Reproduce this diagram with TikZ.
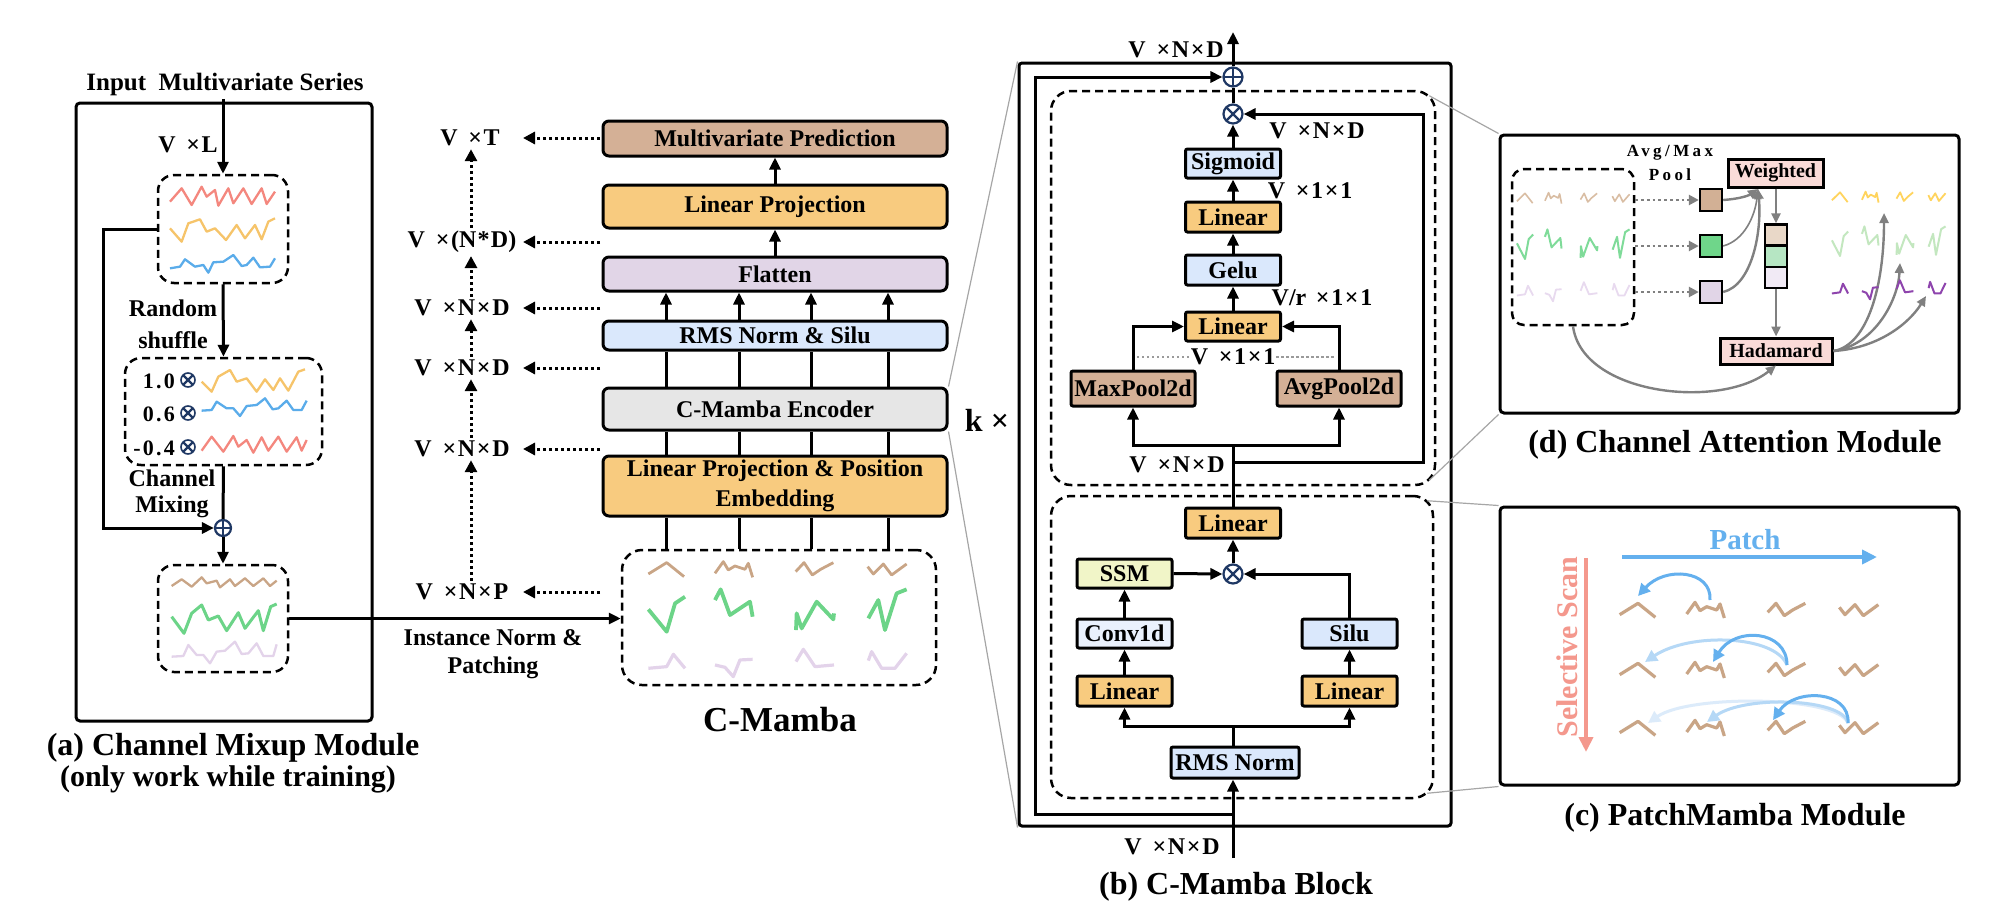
\documentclass[tikz,border=0pt]{standalone}
\usepackage{fontspec}
\setmainfont{Liberation Serif}
\newfontfamily\spacedfont[LetterSpace=20]{Liberation Serif}
\newfontfamily\numfont[LetterSpace=10]{Liberation Serif}
\usetikzlibrary{arrows.meta,calc}
\definecolor{ctan}{HTML}{D4B096}
\definecolor{corange}{HTML}{F8CB7F}
\definecolor{clav}{HTML}{E1D5E7}
\definecolor{cblue}{HTML}{DAE8FC}
\definecolor{cgray}{HTML}{E6E6E6}
\definecolor{cssm}{HTML}{F1F5C8}
\definecolor{cconv}{HTML}{EAF1FD}
\definecolor{cpink}{HTML}{FADBD8}
\definecolor{navy}{HTML}{1F3864}
\definecolor{sred}{HTML}{F4877E}
\definecolor{sorange}{HTML}{F6C46A}
\definecolor{sblue}{HTML}{5AACEA}
\definecolor{sbrown}{HTML}{C9A586}
\definecolor{sgreen}{HTML}{6CD488}
\definecolor{spurple}{HTML}{E3D3EA}
\definecolor{fbrown}{HTML}{D9BDA3}
\definecolor{fgreen}{HTML}{7FDB99}
\definecolor{fpurple}{HTML}{E8DAEF}
\definecolor{dyellow}{HTML}{FFD45E}
\definecolor{dgreen}{HTML}{C3E7BF}
\definecolor{dpurple}{HTML}{8E44AD}
\definecolor{pblue}{HTML}{64B0EE}
\definecolor{pblue2}{HTML}{B5D8F6}
\definecolor{pblue3}{HTML}{DCEBFA}
\definecolor{salmon}{HTML}{F4988D}
\definecolor{connc}{HTML}{A6A6A6}
\definecolor{darr}{HTML}{808080}
\definecolor{sqtan}{HTML}{D2B095}
\definecolor{sqgreen}{HTML}{6FD68A}
\definecolor{stk1}{HTML}{E9D8C8}
\definecolor{stk2}{HTML}{B6E6C3}
\definecolor{stk3}{HTML}{F1EAF5}
\newcommand{\fmid}{\fontsize{24}{30}\selectfont\bfseries}
\newcommand{\fcap}{\fontsize{32}{36}\selectfont\bfseries}
\newcommand{\fsm}{\fontsize{20}{23}\selectfont\bfseries}
\newcommand{\xx}{\hspace{.07em}×\hspace{.07em}}
\newcommand{\vv}{V\hspace{.45em}×\hspace{.07em}}
\newcommand{\zig}[5]{\draw[#1,line join=round,shift={(#2)},xscale=#3,yscale=#4] #5;}
\def\PBa{(-55,14)--(0,-20)--(52,22)}
\def\PBb{(-55,12)--(-30,-23)--(-15,2)--(5,-10)--(35,0)--(45,-18)--(58,24)}
\def\PBc{(-58,7)--(-33,-20)--(-8,17)--(17,0)--(55,-20)}
\def\PBd{(-59,-8)--(-42,14)--(-12,-16)--(13,17)--(58,-16)}
\def\PGa{(-55,-7)--(0,60)--(25,-25)--(55,-45)}
\def\PGb{(-55,-35)--(-38,-67)--(-10,10)--(50,-30)--(58,15)}
\def\PGc{(-57,55)--(-55,5)--(-40,50)--(5,-30)--(55,23)--(57,5)}
\def\PGd{(-57,20)--(-27,-35)--(-7,55)--(28,-55)--(58,-67)}
\def\PPa{(-55,15)--(0,10)--(20,-27)--(55,15)}
\def\PPb{(-55,5)--(-25,12)--(0,40)--(20,-10)--(58,-12)}
\def\PPc{(-57,-5)--(-35,-42)--(0,10)--(57,5)}
\def\PPd{(-57,-8)--(-47,-35)--(-17,15)--(23,15)--(58,-30)}
\tikzset{
  ln/.style={line width=3pt},
  arr/.style={line width=3pt,-{Triangle[length=12pt,width=11pt]}},
  dotarr/.style={line width=3pt,dash pattern=on 3pt off 3pt,-{Triangle[length=12pt,width=12pt]}},
  mbox/.style={draw,line width=3pt,rounded corners=6pt,minimum width=344pt,inner sep=0pt,align=center,font=\fmid},
  bbox/.style={draw,line width=3pt,rounded corners=2pt,minimum width=95pt,minimum height=30pt,inner sep=0pt,font=\fmid},
  dbox/.style={draw,line width=2.5pt,dash pattern=on 8pt off 5pt,rounded corners=#1},
  dbox/.default=16pt,
  lbl/.style={font=\fmid,inner sep=3pt},
  panel/.style={draw,line width=3pt,rounded corners=4pt,fill=white},
  conn/.style={draw=connc,line width=1.2pt},
  gdot/.style={draw=darr,line width=2.8pt,dash pattern=on 2.8pt off 3pt,-{Triangle[length=10pt,width=10pt]}},
  garr/.style={draw=darr,line width=2.4pt,-{Triangle[length=10pt,width=9pt]}},
  parr/.style={draw=pblue,line width=3pt,-{Triangle[length=12pt,width=12pt]}},
  pk/.style={draw,line width=3pt,fill=cpink,inner sep=0pt,font=\fsm},
  opl/.style={circle,draw=navy,line width=2.2pt,minimum size=#1,inner sep=0pt,fill=white,
    path picture={\draw[navy,line width=2.2pt] (path picture bounding box.north)--(path picture bounding box.south) (path picture bounding box.west)--(path picture bounding box.east);}},
  opl/.default=19pt,
  otm/.style={circle,draw=navy,line width=2.2pt,minimum size=#1,inner sep=0pt,fill=white,
    path picture={\draw[navy,line width=2.2pt] (path picture bounding box.north west)--(path picture bounding box.south east) (path picture bounding box.north east)--(path picture bounding box.south west);}},
  otm/.default=19pt,
}
\begin{document}
\begin{tikzpicture}[x=1pt,y=-1pt]
\useasboundingbox (0,0) rectangle (1992,918);

%%%%%%%%%%%%%%%% Panel (a)
\node[panel,minimum width=296pt,minimum height=618pt] (pa) at (224,412) {};
\node[font=\fontsize{25}{28}\selectfont\bfseries] (ttl) at (225,84) {Input\ \ Multivariate Series};
\node[dbox,minimum width=130pt,minimum height=108pt] (a1) at (223,229) {};
\node[dbox,minimum width=197pt,minimum height=107pt] (a2) at (223.5,411.5) {};
\node[dbox,minimum width=130pt,minimum height=107pt] (a3) at (223,618.5) {};
\node[opl=16pt] (opa) at (223,528) {};
\node[lbl] (lvl) at (188,145) {\vv L};
\node[lbl] (lrand) at (173,308) {Random};
\node[lbl] (lshuf) at (173,340) {shuffle};
\node[lbl] (lchan) at (172,478) {Channel};
\node[lbl] (lmix) at (172,507) {Mixing};
\node[font=\fontsize{22}{24}\selectfont\numfont\bfseries,anchor=east,inner sep=0pt] (w1) at (175,381) {1.0};
\node[font=\fontsize{22}{24}\selectfont\numfont\bfseries,anchor=east,inner sep=0pt] (w2) at (175,414) {0.6};
\node[font=\fontsize{22}{24}\selectfont\numfont\bfseries,anchor=east,inner sep=0pt] (w3) at (175,448) {-0.4};
\node[otm=14pt,line width=1.6pt] (m1) at (188,380) {};
\node[otm=14pt,line width=1.6pt] (m2) at (188,413) {};
\node[otm=14pt,line width=1.6pt] (m3) at (188,447) {};
\draw[arr] (ttl.south -| a1.north) -- (a1.north);
\draw[arr] (a1.south) -- (a2.north);
\draw[arr] (a1.west) -- ++(-53,0) |- (opa.west);
\draw[ln] (a2.south) -- (opa.north);
\draw[arr] (opa.south) -- (a3.north);
\begin{scope}[shift={(60,60)},scale=1/3,line width=2.3pt,line join=round]
\draw[sred] (330,425)--(365,385)--(395,435)--(425,380)--(440,410)--(465,390)--(475,437)--(505,385)--(520,430)--(550,385)--(575,432)--(605,385)--(620,432)--(645,395);
\draw[sorange] (330,505)--(365,545)--(385,490)--(420,478)--(440,515)--(465,505)--(498,540)--(530,495)--(555,535)--(585,495)--(605,538)--(625,485)--(645,475);
\draw[sblue] (330,625)--(360,620)--(375,598)--(405,620)--(430,615)--(445,638)--(460,607)--(490,605)--(520,585)--(545,618)--(560,615)--(580,593)--(600,622)--(630,620)--(645,595);
\draw[sorange] (425,965)--(455,995)--(475,950)--(510,930)--(530,965)--(560,955)--(590,995)--(615,958)--(640,990)--(660,955)--(685,992)--(715,935)--(735,928);
\draw[sblue] (425,1052)--(455,1050)--(470,1025)--(500,1045)--(520,1045)--(540,1068)--(560,1038)--(590,1035)--(615,1015)--(638,1048)--(655,1045)--(680,1022)--(700,1050)--(725,1050)--(740,1022);
\draw[sred] (425,1172)--(455,1130)--(490,1175)--(520,1128)--(535,1160)--(560,1140)--(580,1178)--(605,1132)--(625,1172)--(655,1130)--(680,1175)--(710,1132)--(725,1172)--(740,1140);
\end{scope}
\begin{scope}[shift={(60,460)},scale=1/3,line width=2.3pt,line join=round]
\draw[sbrown] (335,378)--(365,358)--(395,380)--(425,352)--(440,370)--(470,362)--(480,382)--(510,358)--(525,378)--(555,355)--(580,378)--(610,355)--(630,378)--(650,362);
\draw[sgreen,line width=3pt] (335,470)--(372,520)--(395,460)--(425,435)--(445,480)--(475,468)--(500,512)--(535,458)--(555,505)--(595,452)--(610,512)--(632,440)--(650,432);
\draw[spurple] (335,590)--(370,588)--(385,555)--(410,585)--(430,585)--(450,610)--(470,575)--(495,572)--(525,545)--(545,582)--(565,580)--(590,550)--(610,588)--(640,588)--(650,553);
\end{scope}
\node[font=\fcap] (capa) at (233,748) {(a) Channel Mixup Module};
\node[font=\fontsize{30}{34}\selectfont\bfseries] (capa2) at (228,779) {(only work while training)};

%%%%%%%%%%%%%%%% C-Mamba (middle)
\node[mbox,fill=ctan,minimum height=35pt] (mp) at (775,138.5) {Multivariate Prediction};
\node[mbox,fill=corange,minimum height=43pt] (lp) at (775,206.5) {Linear Projection};
\node[mbox,fill=clav,minimum height=34pt] (fl) at (775,274) {Flatten};
\node[mbox,fill=cblue,minimum height=29pt] (rs) at (775,335.5) {RMS Norm \& Silu};
\node[mbox,fill=cgray,minimum height=42pt] (enc) at (775,409) {C-Mamba Encoder};
\node[mbox,fill=corange,minimum height=60pt] (lpe) at (775,486) {Linear Projection \& Position\\Embedding};
\node[dbox=20pt,minimum width=314pt,minimum height=135pt] (pbox) at (779,617.5) {};
\draw[arr] (lp.north) -- (mp.south);
\draw[arr] (fl.north) -- (lp.south);
\foreach \i/\x in {1/666,2/739,3/811,4/888}{
  \coordinate (c\i) at (\x,0);
  \draw[arr] (c\i |- rs.north) -- (c\i |- fl.south);
  \draw[ln] (c\i |- enc.north) -- (c\i |- rs.south);
  \draw[ln] (c\i |- lpe.north) -- (c\i |- enc.south);
  \draw[ln] (c\i |- pbox.north) -- (c\i |- lpe.south);
}
\draw[arr] (a3.east) -- (a3.east -| pbox.west);
\zig{sbrown,line width=2.8pt}{666.7,569.3}{1/3}{1/3}{\PBa}
\zig{sbrown,line width=2.8pt}{733.3,569.3}{1/3}{1/3}{\PBb}
\zig{sbrown,line width=2.8pt}{815,569.3}{1/3}{1/3}{\PBc}
\zig{sbrown,line width=2.8pt}{887.3,569.3}{1/3}{1/3}{\PBd}
\zig{sgreen,line width=3.8pt}{666.7,611.7}{1/3}{1/3}{\PGa}
\zig{sgreen,line width=3.8pt}{733.3,611.7}{1/3}{1/3}{\PGb}
\zig{sgreen,line width=3.8pt}{815,611.7}{1/3}{1/3}{\PGc}
\zig{sgreen,line width=3.8pt}{887.3,611.7}{1/3}{1/3}{\PGd}
\zig{spurple,line width=3.2pt}{666.7,663.3}{1/3}{1/3}{\PPa}
\zig{spurple,line width=3.2pt}{733.3,663.3}{1/3}{1/3}{\PPb}
\zig{spurple,line width=3.2pt}{815,663.3}{1/3}{1/3}{\PPc}
\zig{spurple,line width=3.2pt}{887.3,663.3}{1/3}{1/3}{\PPd}
\node[lbl] (l1) at (470,138) {\vv T};
\node[lbl] (l2) at (462,242) {\vv(N\hspace{.05em}*\hspace{.05em}D)};
\node[lbl] (l3) at (462,308) {\vv N\xx D};
\node[lbl] (l4) at (462,368) {\vv N\xx D};
\node[lbl] (l5) at (462,449) {\vv N\xx D};
\node[lbl] (l6) at (462,592) {\vv N\xx P};
\coordinate (sx) at (600,0);
\coordinate (tx) at (523,0);
\coordinate (vx) at (471,0);
\foreach \n in {l1,l2,l3,l4,l5,l6}{\draw[dotarr] (\n -| sx) -- (\n -| tx);}
\draw[dotarr] (l6.north -| vx) -- (l5.south -| vx);
\draw[dotarr] (l5.north -| vx) -- (l4.south -| vx);
\draw[dotarr] (l4.north -| vx) -- (l3.south -| vx);
\draw[dotarr] (l3.north -| vx) -- (l2.south -| vx);
\draw[dotarr] (l2.north -| vx) -- (l1.south -| vx);
\node[lbl] (lin1t) at (493,638) {Instance Norm \&};
\node[lbl] (lin2t) at (493,668) {Patching};
\node[font=\fontsize{35}{40}\selectfont\bfseries] (cmc) at (780,720) {C-Mamba};
\node[font=\fcap] (kx) at (987,420) {k ×};

%%%%%%%%%%%%%%%% C-Mamba Block (b)
\node[draw,line width=3pt,rounded corners=3pt,minimum width=432pt,minimum height=763pt] (bo) at (1235,444.5) {};
\node[dbox=20pt,minimum width=384pt,minimum height=394pt] (d1) at (1243,288) {};
\node[dbox=20pt,minimum width=382pt,minimum height=302pt] (d2) at (1242,647) {};
\node[opl] (op1) at (1233,77) {};
\node[otm] (ot1) at (1233,114) {};
\node[bbox,fill=cblue,minimum height=29pt] (sig) at (1233,163.5) {Sigmoid};
\node[bbox,fill=corange] (lin1) at (1233,217) {Linear};
\node[bbox,fill=cblue] (gelu) at (1233,270) {Gelu};
\node[bbox,fill=corange,minimum height=29pt] (lin2) at (1233,326.5) {Linear};
\node[bbox,fill=ctan,minimum width=124pt,minimum height=35pt] (maxp) at (1133,388.5) {MaxPool2d};
\node[bbox,fill=ctan,minimum width=124pt,minimum height=35pt] (avgp) at (1339,388.5) {AvgPool2d};
\node[bbox,fill=corange] (lin3) at (1233,523) {Linear};
\node[otm] (ot2) at (1233,574) {};
\node[bbox,fill=cssm,minimum height=29pt] (ssm) at (1124.5,573.5) {SSM};
\node[bbox,fill=cconv,minimum height=29pt] (conv) at (1124.5,633.5) {Conv1d};
\node[bbox,fill=corange] (lin4) at (1124.5,691) {Linear};
\node[bbox,fill=cblue,minimum height=29pt] (silu) at (1349.5,633.5) {Silu};
\node[bbox,fill=corange] (lin5) at (1349.5,691) {Linear};
\node[bbox,fill=cblue,minimum width=128pt,minimum height=31pt] (rmsb) at (1235,762.5) {RMS Norm};
\coordinate (outb) at (1233,32);
\coordinate (jb) at (1233,445);
\coordinate (jr) at (1233,462);
\coordinate (js) at (1233,726);
\coordinate (jres) at (1233,814);
\coordinate (inb) at (1233,858);
\draw[arr] (op1.north) -- (outb);
\draw[ln] (ot1.north) -- (op1.south);
\draw[arr] (sig.north) -- (ot1.south);
\draw[arr] (lin1.north) -- (sig.south);
\draw[arr] (gelu.north) -- (lin1.south);
\draw[arr] (lin2.north) -- (gelu.south);
\draw[arr] (maxp.north) |- (lin2.west);
\draw[arr] (avgp.north) |- (lin2.east);
\draw[ln] (lin3.north) -- (jb);
\draw[arr] (jb) -| (maxp.south);
\draw[arr] (jb) -| (avgp.south);
\draw[arr] (jr) -- (1423,462) -- (1423,114) -- (ot1.east);
\draw[arr] (ot2.north) -- (lin3.south);
\draw[arr] (ssm.east) -- (ot2.west);
\draw[arr] (silu.north) |- (ot2.east);
\draw[arr] (conv.north) -- (ssm.south);
\draw[arr] (lin4.north) -- (conv.south);
\draw[arr] (lin5.north) -- (silu.south);
\draw[ln] (rmsb.north -| js) -- (js);
\draw[arr] (js) -| (lin4.south);
\draw[arr] (js) -| (lin5.south);
\draw[arr] (inb) -- (rmsb.south -| inb);
\draw[arr] (jres) -- (1035,814) -- (1035,77) -- (op1.west);
\node[lbl] (bl1) at (1176,50) {\vv N\xx D};
\node[lbl] (bl2) at (1317,131) {\vv N\xx D};
\node[lbl] (bl3) at (1310,191) {\vv 1\xx 1};
\node[lbl] (bl4) at (1322,298) {V/r\hspace{.4em}×\hspace{.07em}1\xx 1};
\node[lbl,fill=white,inner sep=1pt] (v11) at (1233,357) {\vv 1\xx 1};
\draw[darr!80,line width=2.4pt,dash pattern=on 2.4pt off 2.6pt] (maxp.north |- v11) ++(4,0) -- (v11.west);
\draw[darr!80,line width=2.4pt,dash pattern=on 2.4pt off 2.6pt] (v11.east) -- ($(avgp.north |- v11)+(-4,0)$);
\node[lbl] (bl5) at (1177,465) {\vv N\xx D};
\node[lbl] (bl6) at (1172,847) {\vv N\xx D};
\node[font=\fcap] (capb) at (1236,887) {(b) C-Mamba Block};

%%%%%%%%%%%%%%%% Panel (d)
\node[panel,minimum width=459pt,minimum height=278pt] (pd) at (1729.5,274) {};
\node[dbox=12pt,minimum width=122pt,minimum height=156pt] (dd) at (1573,247) {};
\node[font=\fontsize{17}{19}\selectfont\spacedfont\bfseries] (avgm) at (1670,153) {Avg/Max};
\node[font=\fontsize{17}{19}\selectfont\spacedfont\bfseries] (pool) at (1670,175) {Pool};
\node[draw,line width=2.4pt,fill=sqtan,minimum size=22pt,inner sep=0pt] (s1) at (1711,200) {};
\node[draw,line width=2.4pt,fill=sqgreen,minimum size=22pt,inner sep=0pt] (s2) at (1711,246) {};
\node[draw,line width=2.4pt,fill=clav,minimum size=22pt,inner sep=0pt] (s3) at (1711,292) {};
\draw[gdot] (dd.east |- s1) -- (s1.west);
\draw[gdot] (dd.east |- s2) -- (s2.west);
\draw[gdot] (dd.east |- s3) -- (s3.west);
\node[pk,minimum width=95pt,minimum height=28pt] (wt) at (1775.5,173) {Weighted};
\node[draw,line width=2.2pt,fill=stk1,minimum width=22pt,minimum height=21pt,inner sep=0pt] (k1) at (1776,235) {};
\node[draw,line width=2.2pt,fill=stk2,minimum width=22pt,minimum height=21pt,inner sep=0pt] (k2) at (1776,256.5) {};
\node[draw,line width=2.2pt,fill=stk3,minimum width=22pt,minimum height=21pt,inner sep=0pt] (k3) at (1776,277.5) {};
\node[pk,minimum width=112pt,minimum height=26pt] (hd) at (1776,351) {Hadamard};
\coordinate (wb) at (1758,189);
\draw[garr] (s1.east) .. controls (1738,199) and (1748,196) .. (wb);
\draw[garr,line width=1.6pt] (s2.east) .. controls (1745,240) and (1755,215) .. (wb);
\draw[garr] (s3.east) .. controls (1752,285) and (1762,232) .. (wb);
\draw[garr] (wt.south -| k1.north) -- (k1.north);
\draw[garr] (k3.south) -- (hd.north -| k3.south);
\draw[garr] (dd.south) .. controls (1582,395) and (1720,410) .. (hd.south);
\draw[garr] (hd.east) .. controls (1868,345) and (1884,285) .. (1884,213);
\draw[garr] (hd.east) .. controls (1875,345) and (1898,300) .. (1900,263);
\draw[garr] (hd.east) .. controls (1880,348) and (1910,322) .. (1926,296);
\zig{fbrown,line width=1.6pt}{1525,198}{0.147}{0.233}{\PBa}
\zig{fbrown,line width=1.6pt}{1553,198}{0.147}{0.233}{\PBb}
\zig{fbrown,line width=1.6pt}{1589,198}{0.147}{0.233}{\PBc}
\zig{fbrown,line width=1.6pt}{1621,198}{0.147}{0.233}{\PBd}
\zig{fgreen,line width=2pt}{1525,245}{0.147}{0.233}{\PGa}
\zig{fgreen,line width=2pt}{1553,245}{0.147}{0.233}{\PGb}
\zig{fgreen,line width=2pt}{1589,245}{0.147}{0.233}{\PGc}
\zig{fgreen,line width=2pt}{1621,245}{0.147}{0.233}{\PGd}
\zig{fpurple,line width=1.8pt}{1525,292}{0.147}{0.233}{\PPa}
\zig{fpurple,line width=1.8pt}{1553,292}{0.147}{0.233}{\PPb}
\zig{fpurple,line width=1.8pt}{1589,292}{0.147}{0.233}{\PPc}
\zig{fpurple,line width=1.8pt}{1621,292}{0.147}{0.233}{\PPd}
\zig{dyellow,line width=1.8pt}{1840,197}{0.147}{0.233}{\PBa}
\zig{dyellow,line width=1.8pt}{1870,197}{0.147}{0.233}{\PBb}
\zig{dyellow,line width=1.8pt}{1905,197}{0.147}{0.233}{\PBc}
\zig{dyellow,line width=1.8pt}{1937,197}{0.147}{0.233}{\PBd}
\zig{dgreen,line width=2pt}{1840,242}{0.147}{0.233}{\PGa}
\zig{dgreen,line width=2pt}{1870,242}{0.147}{0.233}{\PGb}
\zig{dgreen,line width=2pt}{1905,242}{0.147}{0.233}{\PGc}
\zig{dgreen,line width=2pt}{1937,242}{0.147}{0.233}{\PGd}
\zig{dpurple,line width=2pt}{1840,290}{0.147}{0.233}{\PPa}
\zig{dpurple,line width=2pt}{1870,290}{0.147}{0.233}{\PPb}
\zig{dpurple,line width=2pt}{1905,290}{0.147}{0.233}{\PPc}
\zig{dpurple,line width=2pt}{1937,290}{0.147}{0.233}{\PPd}
\node[font=\fcap] (capd) at (1735,445) {(d) Channel Attention Module};

%%%%%%%%%%%%%%%% Panel (c)
\node[panel,minimum width=459pt,minimum height=278pt] (pc) at (1729.5,646) {};
\node[font=\fontsize{29}{32}\selectfont\bfseries,text=pblue] (ptxt) at (1745,540) {Patch};
\draw[pblue,line width=4pt,-{Triangle[length=15pt,width=14pt]}] (1622,557) -- (1877,557);
\node[font=\fontsize{30}{32}\selectfont\bfseries,text=salmon,rotate=90] (stxt) at (1567,647) {Selective Scan};
\draw[salmon,line width=4pt,-{Triangle[length=15pt,width=14pt]}] (1586,558) -- (1586,752);
\foreach \r in {610,670,728}{
\zig{sbrown,line width=3.2pt}{1638,\r}{1/3}{1/3}{\PBa}
\zig{sbrown,line width=3.2pt}{1705,\r}{1/3}{1/3}{\PBb}
\zig{sbrown,line width=3.2pt}{1787,\r}{1/3}{1/3}{\PBc}
\zig{sbrown,line width=3.2pt}{1859,\r}{1/3}{1/3}{\PBd}
}
\draw[parr] (1710,600) .. controls (1712,570) and (1665,566) .. (1638,596);
\draw[parr,draw=pblue2] (1787,665) .. controls (1775,635) and (1690,632) .. (1645,662);
\draw[parr] (1787,665) .. controls (1787,630) and (1735,626) .. (1713,662);
\draw[parr,draw=pblue3] (1848,723) .. controls (1838,696) and (1690,694) .. (1648,723);
\draw[parr,draw=pblue2] (1848,723) .. controls (1843,698) and (1745,695) .. (1707,722);
\draw[parr] (1848,723) .. controls (1850,690) and (1795,688) .. (1773,720);
\node[font=\fcap] (capc) at (1735,818) {(c) PatchMamba Module};

%%%%%%%%%%%%%%%% zoom connectors
\draw[conn] (enc.north east) -- (bo.north west);
\draw[conn] (enc.south east) -- (bo.south west);
\draw[conn] ($(d1.north east)+(-7,6)$) -- (pd.north west);
\draw[conn] ($(d1.south east)+(-7,-6)$) -- (pd.south west);
\draw[conn] ($(d2.north east)+(-7,6)$) -- (pc.north west);
\draw[conn] ($(d2.south east)+(-7,-6)$) -- (pc.south west);
\end{tikzpicture}
\end{document}
